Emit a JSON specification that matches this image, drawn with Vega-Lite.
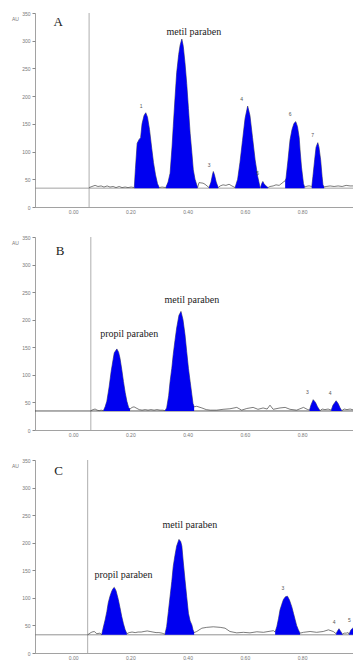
{
  "$schema": "https://vega.github.io/schema/vega-lite/v6.json",
  "background": "white",
  "padding": {"left": 11, "top": 11, "right": 0, "bottom": 0},
  "bounds": "flush",
  "spacing": 30,
  "datasets": {
    "traceA": [
      {"rf":0.056,"au":35},{"rf":0.066,"au":37},{"rf":0.077,"au":39},{"rf":0.087,"au":37},{"rf":0.098,"au":38},{"rf":0.108,"au":36},{"rf":0.119,"au":38},{"rf":0.129,"au":36},{"rf":0.140,"au":37},{"rf":0.150,"au":35},{"rf":0.161,"au":37},{"rf":0.171,"au":35},{"rf":0.182,"au":36},{"rf":0.192,"au":35},{"rf":0.203,"au":36},
      {"rf":0.214,"au":35,"pk":"1"},{"rf":0.218,"au":70,"pk":"1"},{"rf":0.224,"au":115,"pk":"1"},{"rf":0.231,"au":122,"pk":"1"},{"rf":0.236,"au":125,"pk":"1"},{"rf":0.241,"au":150,"pk":"1"},{"rf":0.248,"au":165,"pk":"1"},{"rf":0.254,"au":170,"pk":"1"},{"rf":0.260,"au":162,"pk":"1"},{"rf":0.267,"au":140,"pk":"1"},{"rf":0.275,"au":105,"pk":"1"},{"rf":0.281,"au":80,"pk":"1"},{"rf":0.288,"au":58,"pk":"1"},{"rf":0.295,"au":42,"pk":"1"},{"rf":0.301,"au":35,"pk":"1"},
      {"rf":0.311,"au":36},
      {"rf":0.324,"au":35,"pk":"2"},{"rf":0.332,"au":45,"pk":"2"},{"rf":0.339,"au":61,"pk":"2"},{"rf":0.346,"au":110,"pk":"2"},{"rf":0.350,"au":145,"pk":"2"},{"rf":0.356,"au":195,"pk":"2"},{"rf":0.362,"au":242,"pk":"2"},{"rf":0.369,"au":275,"pk":"2"},{"rf":0.374,"au":292,"pk":"2"},{"rf":0.380,"au":303,"pk":"2"},{"rf":0.385,"au":290,"pk":"2"},{"rf":0.391,"au":260,"pk":"2"},{"rf":0.397,"au":223,"pk":"2"},{"rf":0.403,"au":178,"pk":"2"},{"rf":0.409,"au":133,"pk":"2"},{"rf":0.415,"au":98,"pk":"2"},{"rf":0.420,"au":67,"pk":"2"},{"rf":0.426,"au":50,"pk":"2"},{"rf":0.432,"au":40,"pk":"2"},{"rf":0.435,"au":35,"pk":"2"},
      {"rf":0.440,"au":44},{"rf":0.454,"au":43},{"rf":0.461,"au":41},{"rf":0.468,"au":38},
      {"rf":0.475,"au":35,"pk":"3"},{"rf":0.482,"au":45,"pk":"3"},{"rf":0.487,"au":58,"pk":"3"},{"rf":0.490,"au":64,"pk":"3"},{"rf":0.494,"au":58,"pk":"3"},{"rf":0.500,"au":45,"pk":"3"},{"rf":0.507,"au":35,"pk":"3"},
      {"rf":0.514,"au":38},{"rf":0.524,"au":40},{"rf":0.534,"au":39},{"rf":0.545,"au":41},{"rf":0.555,"au":38},
      {"rf":0.566,"au":35,"pk":"4"},{"rf":0.575,"au":50,"pk":"4"},{"rf":0.583,"au":80,"pk":"4"},{"rf":0.592,"au":120,"pk":"4"},{"rf":0.601,"au":160,"pk":"4"},{"rf":0.610,"au":182,"pk":"4"},{"rf":0.618,"au":165,"pk":"4"},{"rf":0.627,"au":125,"pk":"4"},{"rf":0.636,"au":85,"pk":"4"},{"rf":0.645,"au":55,"pk":"4"},{"rf":0.653,"au":36,"pk":"4"},
      {"rf":0.655,"au":35,"pk":"5"},{"rf":0.659,"au":42,"pk":"5"},{"rf":0.663,"au":46,"pk":"5"},{"rf":0.667,"au":42,"pk":"5"},{"rf":0.674,"au":38,"pk":"5"},{"rf":0.681,"au":35,"pk":"5"},
      {"rf":0.688,"au":37},{"rf":0.699,"au":38},{"rf":0.709,"au":40},{"rf":0.720,"au":39},{"rf":0.730,"au":43},{"rf":0.737,"au":46},
      {"rf":0.741,"au":47,"pk":"6"},{"rf":0.744,"au":52,"pk":"6"},{"rf":0.751,"au":85,"pk":"6"},{"rf":0.758,"au":121,"pk":"6"},{"rf":0.765,"au":140,"pk":"6"},{"rf":0.772,"au":151,"pk":"6"},{"rf":0.778,"au":154,"pk":"6"},{"rf":0.784,"au":145,"pk":"6"},{"rf":0.790,"au":125,"pk":"6"},{"rf":0.793,"au":103,"pk":"6"},{"rf":0.798,"au":72,"pk":"6"},{"rf":0.805,"au":42,"pk":"6"},{"rf":0.809,"au":36,"pk":"6"},
      {"rf":0.814,"au":37},{"rf":0.821,"au":38},{"rf":0.828,"au":38},
      {"rf":0.834,"au":36,"pk":"7"},{"rf":0.838,"au":55,"pk":"7"},{"rf":0.844,"au":85,"pk":"7"},{"rf":0.849,"au":108,"pk":"7"},{"rf":0.855,"au":116,"pk":"7"},{"rf":0.859,"au":108,"pk":"7"},{"rf":0.865,"au":85,"pk":"7"},{"rf":0.870,"au":55,"pk":"7"},{"rf":0.873,"au":40,"pk":"7"},{"rf":0.877,"au":36,"pk":"7"},
      {"rf":0.884,"au":37},{"rf":0.898,"au":38},{"rf":0.912,"au":37},{"rf":0.926,"au":38},{"rf":0.940,"au":37},{"rf":0.954,"au":39},{"rf":0.968,"au":38},{"rf":0.982,"au":38}
    ],
    "traceB": [
      {"rf":0.062,"au":35},{"rf":0.070,"au":37},{"rf":0.077,"au":38},{"rf":0.084,"au":36},{"rf":0.091,"au":35},{"rf":0.098,"au":36},
      {"rf":0.106,"au":35,"pk":"p"},{"rf":0.112,"au":42,"pk":"p"},{"rf":0.118,"au":52,"pk":"p"},{"rf":0.126,"au":78,"pk":"p"},{"rf":0.133,"au":106,"pk":"p"},{"rf":0.140,"au":128,"pk":"p"},{"rf":0.144,"au":140,"pk":"p"},{"rf":0.153,"au":147,"pk":"p"},{"rf":0.159,"au":141,"pk":"p"},{"rf":0.164,"au":130,"pk":"p"},{"rf":0.170,"au":110,"pk":"p"},{"rf":0.176,"au":88,"pk":"p"},{"rf":0.182,"au":68,"pk":"p"},{"rf":0.188,"au":52,"pk":"p"},{"rf":0.194,"au":41,"pk":"p"},{"rf":0.199,"au":38,"pk":"p"},
      {"rf":0.206,"au":41},{"rf":0.213,"au":42},{"rf":0.220,"au":40},{"rf":0.231,"au":37},{"rf":0.241,"au":36},{"rf":0.252,"au":37},{"rf":0.262,"au":36},{"rf":0.272,"au":37},{"rf":0.283,"au":36},{"rf":0.293,"au":37},{"rf":0.304,"au":36},{"rf":0.314,"au":36},
      {"rf":0.321,"au":35,"pk":"m"},{"rf":0.327,"au":40,"pk":"m"},{"rf":0.334,"au":62,"pk":"m"},{"rf":0.339,"au":88,"pk":"m"},{"rf":0.345,"au":112,"pk":"m"},{"rf":0.350,"au":137,"pk":"m"},{"rf":0.356,"au":162,"pk":"m"},{"rf":0.362,"au":185,"pk":"m"},{"rf":0.370,"au":208,"pk":"m"},{"rf":0.377,"au":215,"pk":"m"},{"rf":0.384,"au":200,"pk":"m"},{"rf":0.391,"au":173,"pk":"m"},{"rf":0.397,"au":142,"pk":"m"},{"rf":0.403,"au":112,"pk":"m"},{"rf":0.409,"au":88,"pk":"m"},{"rf":0.415,"au":64,"pk":"m"},{"rf":0.419,"au":48,"pk":"m"},{"rf":0.423,"au":42,"pk":"m"},
      {"rf":0.432,"au":43},{"rf":0.450,"au":40},{"rf":0.465,"au":37},{"rf":0.479,"au":36},{"rf":0.502,"au":36},{"rf":0.524,"au":37.5},{"rf":0.548,"au":38.5},{"rf":0.572,"au":41},{"rf":0.589,"au":36},{"rf":0.607,"au":39},{"rf":0.629,"au":41},{"rf":0.646,"au":37.5},{"rf":0.664,"au":40},{"rf":0.678,"au":38},{"rf":0.688,"au":45},{"rf":0.699,"au":37.5},{"rf":0.723,"au":40},{"rf":0.741,"au":41},{"rf":0.758,"au":37.5},{"rf":0.781,"au":36},{"rf":0.805,"au":41},{"rf":0.818,"au":37.5},
      {"rf":0.826,"au":36,"pk":"3"},{"rf":0.831,"au":45,"pk":"3"},{"rf":0.839,"au":55,"pk":"3"},{"rf":0.847,"au":50,"pk":"3"},{"rf":0.854,"au":42,"pk":"3"},{"rf":0.863,"au":35,"pk":"3"},
      {"rf":0.870,"au":38},{"rf":0.880,"au":37},{"rf":0.891,"au":38},
      {"rf":0.902,"au":36,"pk":"4"},{"rf":0.908,"au":45,"pk":"4"},{"rf":0.919,"au":53,"pk":"4"},{"rf":0.926,"au":48,"pk":"4"},{"rf":0.933,"au":40,"pk":"4"},{"rf":0.939,"au":35,"pk":"4"},
      {"rf":0.947,"au":38},{"rf":0.957,"au":37},{"rf":0.968,"au":38},{"rf":0.982,"au":36}
    ],
    "traceC": [
      {"rf":0.051,"au":33},{"rf":0.059,"au":36},{"rf":0.066,"au":38},{"rf":0.074,"au":39},{"rf":0.083,"au":35},{"rf":0.094,"au":36},
      {"rf":0.100,"au":33,"pk":"p"},{"rf":0.105,"au":45,"pk":"p"},{"rf":0.112,"au":60,"pk":"p"},{"rf":0.118,"au":75,"pk":"p"},{"rf":0.123,"au":91,"pk":"p"},{"rf":0.129,"au":103,"pk":"p"},{"rf":0.135,"au":112,"pk":"p"},{"rf":0.140,"au":117,"pk":"p"},{"rf":0.144,"au":119,"pk":"p"},{"rf":0.150,"au":113,"pk":"p"},{"rf":0.158,"au":97,"pk":"p"},{"rf":0.164,"au":82,"pk":"p"},{"rf":0.170,"au":66,"pk":"p"},{"rf":0.176,"au":53,"pk":"p"},{"rf":0.182,"au":42,"pk":"p"},{"rf":0.188,"au":35,"pk":"p"},
      {"rf":0.196,"au":37},{"rf":0.206,"au":38},{"rf":0.217,"au":37},{"rf":0.227,"au":38},{"rf":0.238,"au":38},{"rf":0.248,"au":39},{"rf":0.259,"au":40},{"rf":0.269,"au":39},{"rf":0.279,"au":38},{"rf":0.290,"au":37},{"rf":0.300,"au":37},{"rf":0.311,"au":36},
      {"rf":0.321,"au":34,"pk":"m"},{"rf":0.327,"au":48,"pk":"m"},{"rf":0.333,"au":75,"pk":"m"},{"rf":0.339,"au":103,"pk":"m"},{"rf":0.345,"au":130,"pk":"m"},{"rf":0.350,"au":157,"pk":"m"},{"rf":0.356,"au":177,"pk":"m"},{"rf":0.362,"au":194,"pk":"m"},{"rf":0.370,"au":206,"pk":"m"},{"rf":0.376,"au":202,"pk":"m"},{"rf":0.380,"au":194,"pk":"m"},{"rf":0.385,"au":165,"pk":"m"},{"rf":0.391,"au":133,"pk":"m"},{"rf":0.397,"au":102,"pk":"m"},{"rf":0.403,"au":72,"pk":"m"},{"rf":0.409,"au":58,"pk":"m"},{"rf":0.415,"au":51,"pk":"m"},{"rf":0.419,"au":42,"pk":"m"},{"rf":0.423,"au":37,"pk":"m"},
      {"rf":0.432,"au":39},{"rf":0.450,"au":45},{"rf":0.467,"au":46.5},{"rf":0.490,"au":47.5},{"rf":0.514,"au":46.5},{"rf":0.531,"au":45},{"rf":0.548,"au":39},{"rf":0.572,"au":36.5},{"rf":0.595,"au":37.5},{"rf":0.618,"au":36.5},{"rf":0.642,"au":38.5},{"rf":0.665,"au":37.5},{"rf":0.688,"au":39.5},{"rf":0.700,"au":40.5},
      {"rf":0.706,"au":38,"pk":"3"},{"rf":0.712,"au":48,"pk":"3"},{"rf":0.718,"au":63,"pk":"3"},{"rf":0.723,"au":78,"pk":"3"},{"rf":0.729,"au":88,"pk":"3"},{"rf":0.735,"au":97,"pk":"3"},{"rf":0.742,"au":102,"pk":"3"},{"rf":0.749,"au":103,"pk":"3"},{"rf":0.756,"au":96,"pk":"3"},{"rf":0.764,"au":84,"pk":"3"},{"rf":0.770,"au":72,"pk":"3"},{"rf":0.776,"au":60,"pk":"3"},{"rf":0.781,"au":50,"pk":"3"},{"rf":0.787,"au":42,"pk":"3"},{"rf":0.793,"au":36,"pk":"3"},
      {"rf":0.805,"au":37.5},{"rf":0.828,"au":39},{"rf":0.851,"au":37.5},{"rf":0.874,"au":39},{"rf":0.892,"au":42},{"rf":0.909,"au":39},
      {"rf":0.919,"au":35,"pk":"4"},{"rf":0.924,"au":40,"pk":"4"},{"rf":0.929,"au":44,"pk":"4"},{"rf":0.934,"au":40,"pk":"4"},{"rf":0.941,"au":34,"pk":"4"},
      {"rf":0.947,"au":36},{"rf":0.954,"au":36},{"rf":0.961,"au":37},
      {"rf":0.964,"au":34,"pk":"5"},{"rf":0.971,"au":42,"pk":"5"},{"rf":0.977,"au":45,"pk":"5"},{"rf":0.982,"au":44,"pk":"5"},{"rf":0.989,"au":40,"pk":"5"},{"rf":0.996,"au":34,"pk":"5"}
    ],
    "labelsA": [
      {"rf":-0.052,"au":334,"text":"A","kind":"panel"},
      {"rf":0.422,"au":315,"text":"metil paraben","kind":"name"},
      {"rf":0.238,"au":182,"text":"1","kind":"peak"},
      {"rf":0.475,"au":76,"text":"3","kind":"peak"},
      {"rf":0.589,"au":195,"text":"4","kind":"peak"},
      {"rf":0.645,"au":62,"text":"5","kind":"peak"},
      {"rf":0.758,"au":168,"text":"6","kind":"peak"},
      {"rf":0.837,"au":130,"text":"7","kind":"peak"}
    ],
    "labelsB": [
      {"rf":-0.045,"au":325,"text":"B","kind":"panel"},
      {"rf":0.196,"au":174,"text":"propil paraben","kind":"name"},
      {"rf":0.415,"au":235,"text":"metil paraben","kind":"name"},
      {"rf":0.819,"au":69,"text":"3","kind":"peak"},
      {"rf":0.898,"au":67,"text":"4","kind":"peak"}
    ],
    "labelsC": [
      {"rf":-0.051,"au":330,"text":"C","kind":"panel"},
      {"rf":0.176,"au":142,"text":"propil paraben","kind":"name"},
      {"rf":0.408,"au":232,"text":"metil paraben","kind":"name"},
      {"rf":0.733,"au":118,"text":"3","kind":"peak"},
      {"rf":0.912,"au":57,"text":"4","kind":"peak"},
      {"rf":0.965,"au":60,"text":"5","kind":"peak"}
    ]
  },
  "vconcat": [
    {
      "width": 318, "height": 194,
      "encoding": {
        "x": {"field": "rf", "type": "quantitative", "scale": {"domain": [-0.133, 0.978], "nice": false, "zero": false}, "axis": {"values": [0, 0.2, 0.4, 0.6, 0.8], "format": ".2f", "title": null, "ticks": false, "labelPadding": 2, "labelOverlap": false}},
        "y": {"field": "au", "type": "quantitative", "scale": {"domain": [0, 350], "nice": false}, "axis": {"values": [0, 50, 100, 150, 200, 250, 300, 350], "labelOverlap": false, "title": "AU", "titleAngle": 0, "titleX": -20, "titleY": 5, "titleAlign": "center", "titleBaseline": "middle", "tickSize": 3, "labelPadding": 2}}
      },
      "layer": [
        {"data": {"values": [{"rf": 0.056}]}, "mark": {"type": "rule", "color": "#9a9a9a", "strokeWidth": 0.8}, "encoding": {"y": null}},
        {"data": {"values": [{"au": 34}]}, "mark": {"type": "rule", "color": "#8a8a8a", "strokeWidth": 0.8}, "encoding": {"x": null}},
        {"data": {"name": "traceA"}, "mark": {"type": "line", "color": "#444444", "strokeWidth": 0.7, "clip": true}},
        {"data": {"name": "traceA"}, "transform": [{"filter": "datum.pk"}], "mark": {"type": "area", "color": "#0000f0", "opacity": 1, "clip": true},
         "encoding": {"y2": {"datum": 34}, "detail": {"field": "pk"}}},
        {"data": {"name": "labelsA"}, "transform": [{"filter": "datum.kind != 'peak'"}], "mark": {"type": "text", "font": "Liberation Serif", "color": "#222222", "align": "center", "baseline": "middle"},
         "encoding": {"text": {"field": "text"}, "size": {"field": "kind", "type": "nominal", "scale": {"domain": ["panel", "name"], "range": [13, 10]}, "legend": null}}},
        {"data": {"name": "labelsA"}, "transform": [{"filter": "datum.kind == 'peak'"}], "mark": {"type": "text", "font": "Liberation Sans", "fontSize": 5, "color": "#555555", "align": "center", "baseline": "middle"},
         "encoding": {"text": {"field": "text"}}}
      ]
    },
    {
      "width": 318, "height": 193,
      "encoding": {
        "x": {"field": "rf", "type": "quantitative", "scale": {"domain": [-0.133, 0.978], "nice": false, "zero": false}, "axis": {"values": [0, 0.2, 0.4, 0.6, 0.8], "format": ".2f", "title": null, "ticks": false, "labelPadding": 2, "labelOverlap": false}},
        "y": {"field": "au", "type": "quantitative", "scale": {"domain": [0, 350], "nice": false}, "axis": {"values": [0, 50, 100, 150, 200, 250, 300, 350], "labelOverlap": false, "title": "AU", "titleAngle": 0, "titleX": -20, "titleY": 5, "titleAlign": "center", "titleBaseline": "middle", "tickSize": 3, "labelPadding": 2}}
      },
      "layer": [
        {"data": {"values": [{"rf": 0.062}]}, "mark": {"type": "rule", "color": "#9a9a9a", "strokeWidth": 0.8}, "encoding": {"y": null}},
        {"data": {"values": [{"au": 34.5}]}, "mark": {"type": "rule", "color": "#333333", "strokeWidth": 0.8}, "encoding": {"x": null}},
        {"data": {"name": "traceB"}, "mark": {"type": "line", "color": "#444444", "strokeWidth": 0.7, "clip": true}},
        {"data": {"name": "traceB"}, "transform": [{"filter": "datum.pk"}], "mark": {"type": "area", "color": "#0000f0", "opacity": 1, "clip": true},
         "encoding": {"y2": {"datum": 34.5}, "detail": {"field": "pk"}}},
        {"data": {"name": "labelsB"}, "transform": [{"filter": "datum.kind != 'peak'"}], "mark": {"type": "text", "font": "Liberation Serif", "color": "#222222", "align": "center", "baseline": "middle"},
         "encoding": {"text": {"field": "text"}, "size": {"field": "kind", "type": "nominal", "scale": {"domain": ["panel", "name"], "range": [13, 10]}, "legend": null}}},
        {"data": {"name": "labelsB"}, "transform": [{"filter": "datum.kind == 'peak'"}], "mark": {"type": "text", "font": "Liberation Sans", "fontSize": 5, "color": "#555555", "align": "center", "baseline": "middle"},
         "encoding": {"text": {"field": "text"}}}
      ]
    },
    {
      "width": 318, "height": 193,
      "encoding": {
        "x": {"field": "rf", "type": "quantitative", "scale": {"domain": [-0.133, 0.978], "nice": false, "zero": false}, "axis": {"values": [0, 0.2, 0.4, 0.6, 0.8], "format": ".2f", "title": null, "ticks": false, "labelPadding": 2, "labelOverlap": false}},
        "y": {"field": "au", "type": "quantitative", "scale": {"domain": [0, 350], "nice": false}, "axis": {"values": [0, 50, 100, 150, 200, 250, 300, 350], "labelOverlap": false, "title": "AU", "titleAngle": 0, "titleX": -20, "titleY": 5, "titleAlign": "center", "titleBaseline": "middle", "tickSize": 3, "labelPadding": 2}}
      },
      "layer": [
        {"data": {"values": [{"rf": 0.051}]}, "mark": {"type": "rule", "color": "#9a9a9a", "strokeWidth": 0.8}, "encoding": {"y": null}},
        {"data": {"values": [{"au": 33}]}, "mark": {"type": "rule", "color": "#777777", "strokeWidth": 0.8}, "encoding": {"x": null}},
        {"data": {"name": "traceC"}, "mark": {"type": "line", "color": "#444444", "strokeWidth": 0.7, "clip": true}},
        {"data": {"name": "traceC"}, "transform": [{"filter": "datum.pk"}], "mark": {"type": "area", "color": "#0000f0", "opacity": 1, "clip": true},
         "encoding": {"y2": {"datum": 33}, "detail": {"field": "pk"}}},
        {"data": {"name": "labelsC"}, "transform": [{"filter": "datum.kind != 'peak'"}], "mark": {"type": "text", "font": "Liberation Serif", "color": "#222222", "align": "center", "baseline": "middle"},
         "encoding": {"text": {"field": "text"}, "size": {"field": "kind", "type": "nominal", "scale": {"domain": ["panel", "name"], "range": [13, 10]}, "legend": null}}},
        {"data": {"name": "labelsC"}, "transform": [{"filter": "datum.kind == 'peak'"}], "mark": {"type": "text", "font": "Liberation Sans", "fontSize": 5, "color": "#555555", "align": "center", "baseline": "middle"},
         "encoding": {"text": {"field": "text"}}}
      ]
    }
  ],
  "resolve": {"scale": {"size": "independent"}},
  "config": {
    "view": {"stroke": null},
    "axis": {"grid": false, "labelOverlap": false, "labelFont": "Liberation Sans", "labelFontSize": 5, "labelColor": "#777777", "titleFont": "Liberation Sans", "titleFontSize": 5, "titleFontWeight": "normal", "titleColor": "#777777", "domainColor": "#8a8a8a", "tickColor": "#8a8a8a", "domainWidth": 0.8}
  }
}
